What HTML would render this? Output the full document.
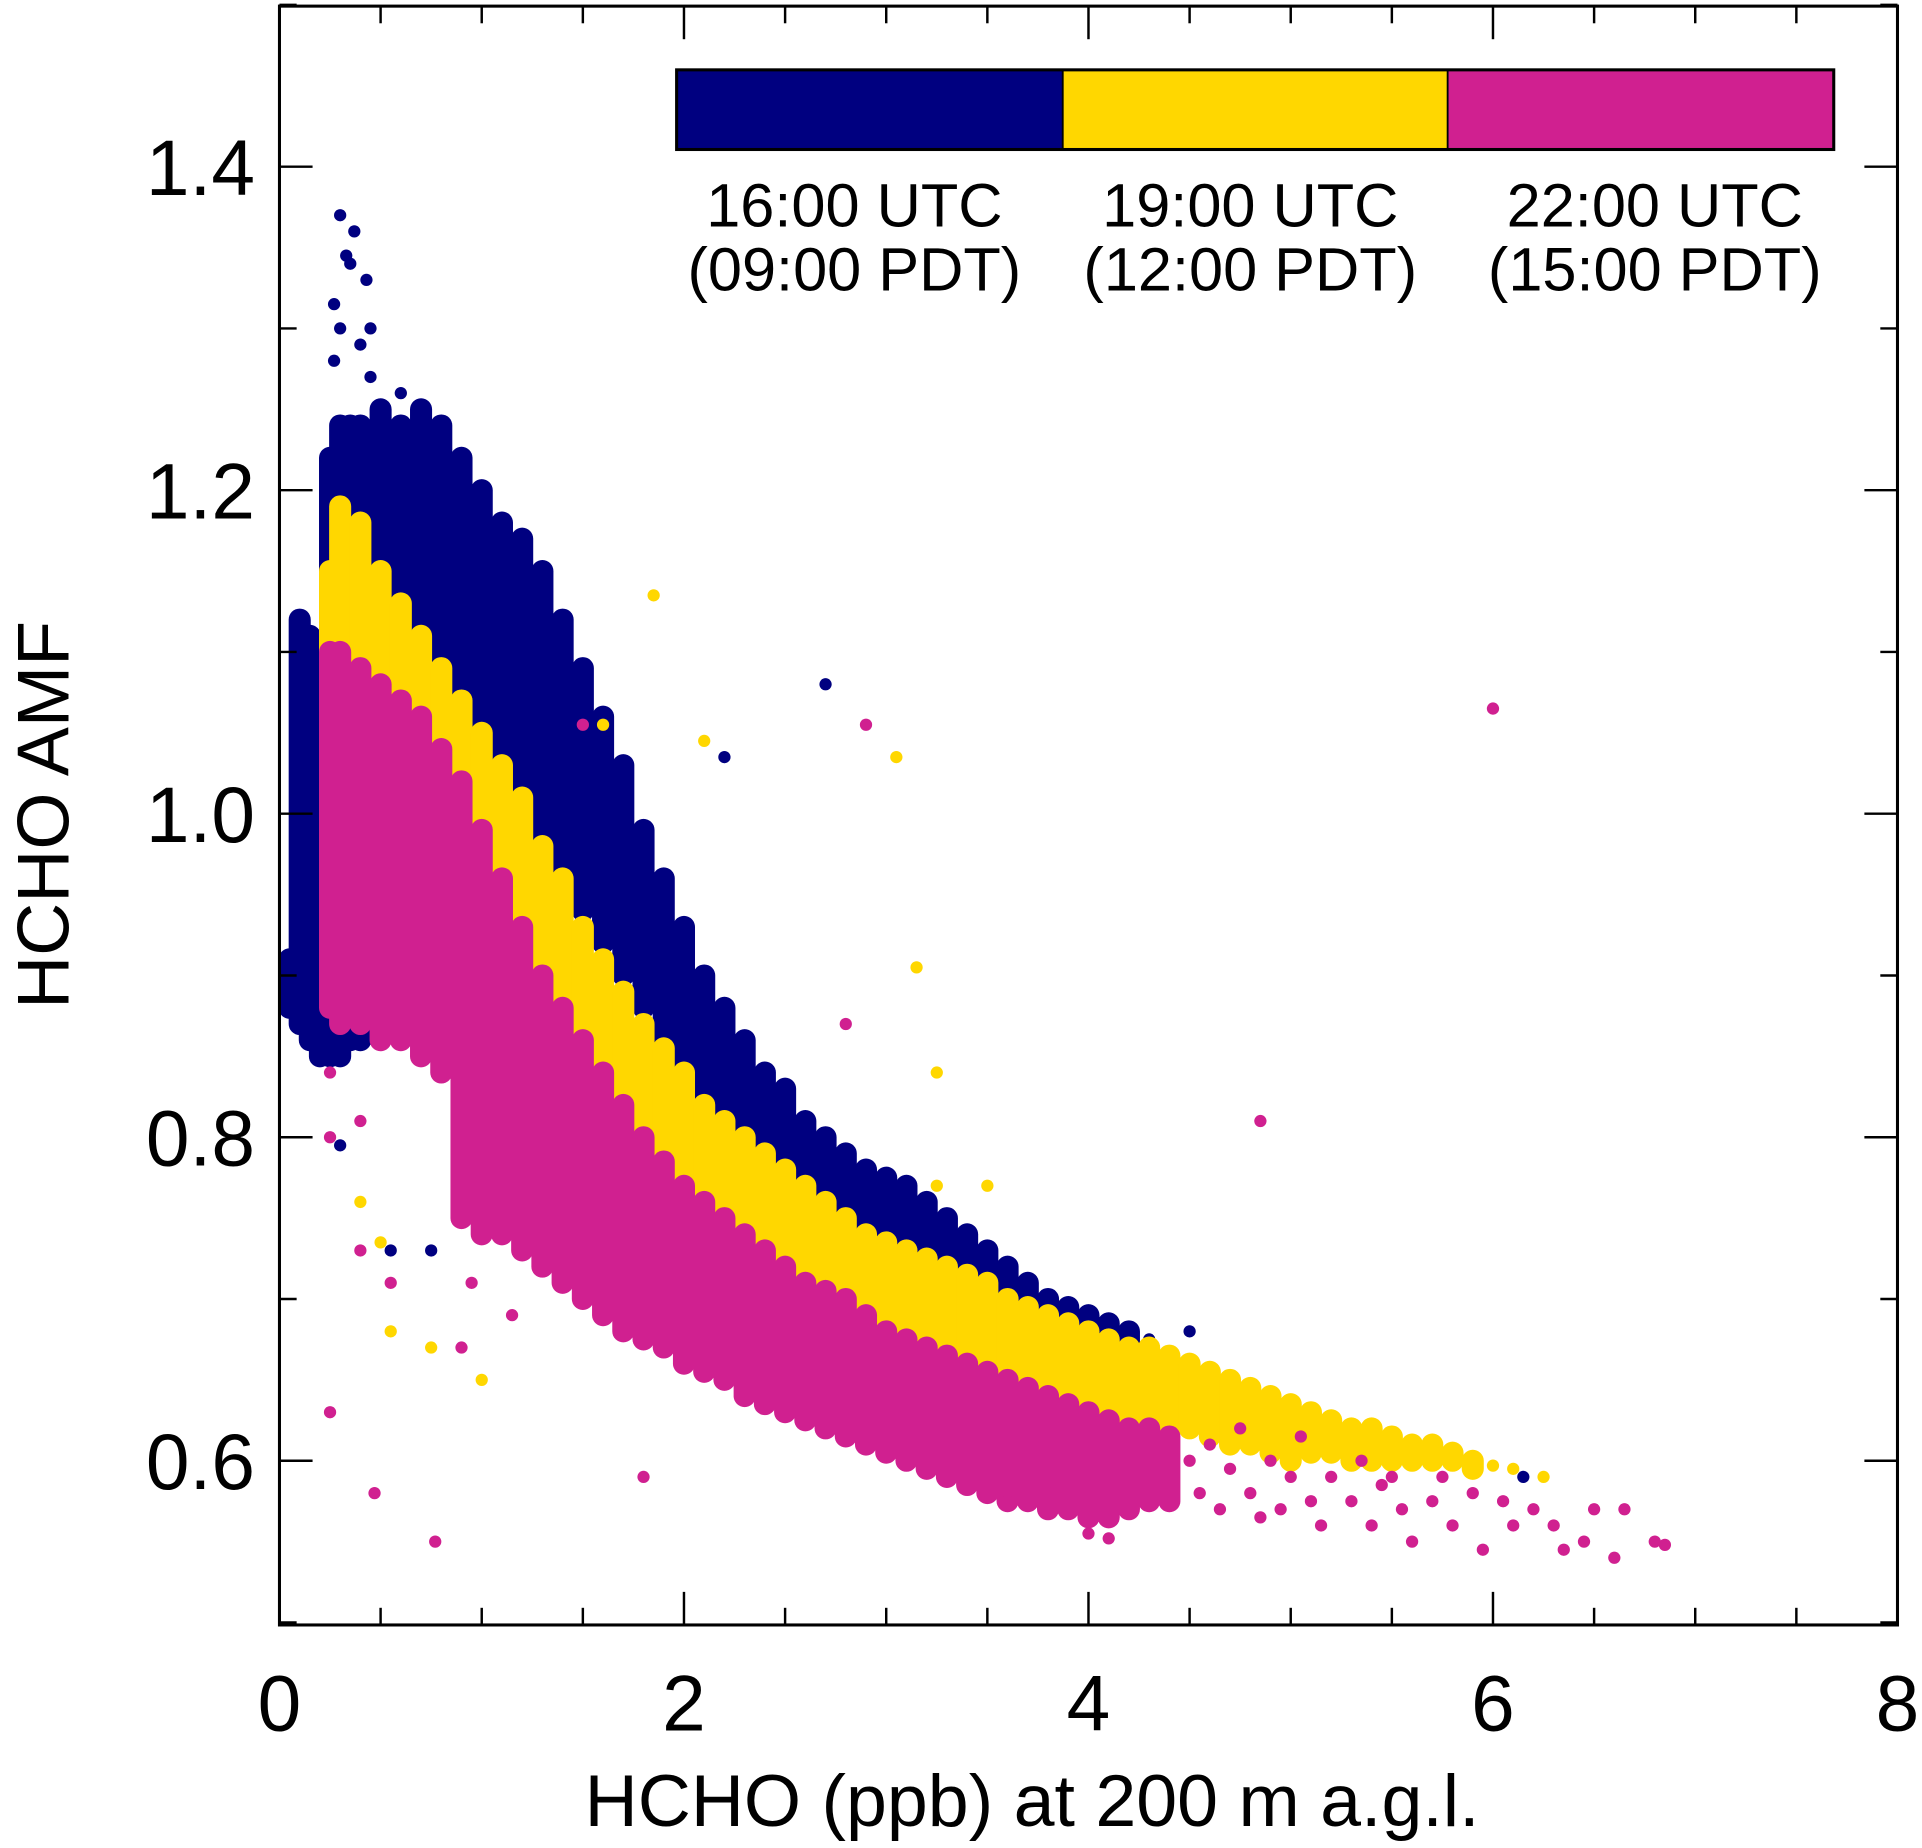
<!DOCTYPE html>
<html><head><meta charset="utf-8"><style>
html,body{margin:0;padding:0;background:#fff}
svg{display:block}
text{font-family:"Liberation Sans",Arial,sans-serif;fill:#000}
</style></head><body>
<svg id="chart" width="1922" height="1848" viewBox="0 0 1568 1508" preserveAspectRatio="none" xmlns="http://www.w3.org/2000/svg">
<g id="navy-layer"></g>
<g id="gold-layer"></g>
<g id="mag-layer"></g>
<g id="axes"></g>
<g>
<rect x="552" y="57" width="315" height="65" fill="#000080"/>
<rect x="867" y="57" width="314" height="65" fill="#FFD700"/>
<rect x="1181" y="57" width="315" height="65" fill="#D02090"/>
<rect x="552" y="57" width="944" height="65" fill="none" stroke="#000" stroke-width="2.5"/>
<line x1="867" y1="57" x2="867" y2="122" stroke="#000" stroke-width="1.5"/>
<line x1="1181" y1="57" x2="1181" y2="122" stroke="#000" stroke-width="1.5"/>
<text x="697" y="185" font-size="50" text-anchor="middle">16:00 UTC</text>
<text x="697" y="237" font-size="50" text-anchor="middle">(09:00 PDT)</text>
<text x="1020" y="185" font-size="50" text-anchor="middle">19:00 UTC</text>
<text x="1020" y="237" font-size="50" text-anchor="middle">(12:00 PDT)</text>
<text x="1350" y="185" font-size="50" text-anchor="middle">22:00 UTC</text>
<text x="1350" y="237" font-size="50" text-anchor="middle">(15:00 PDT)</text>
</g>
<text x="842" y="1490" font-size="60" text-anchor="middle">HCHO (ppb) at 200 m a.g.l.</text>
<text transform="translate(56,665) rotate(-90)" font-size="60" text-anchor="middle">HCHO AMF</text>
</svg>
<script>
const xTicks=[0,2,4,6,8];
const xTickLabels=["0","2","4","6","8"];
const yTicks=[0.6,0.8,1.0,1.2,1.4];
const yTickLabels=["0.6","0.8","1.0","1.2","1.4"];
// dense point clouds: [x, lowest AMF, highest AMF] per column
const navyBands=[[0.05,0.88,0.91],[0.1,0.87,1.12],[0.15,0.86,1.11],[0.2,0.85,1.10],[0.25,0.85,1.22],[0.3,0.85,1.24],[0.35,0.86,1.24],[0.4,0.86,1.24],[0.5,0.87,1.25],[0.6,0.88,1.24],[0.7,1.0,1.25],[0.8,1.0,1.24],[0.9,1.0,1.22],[1.0,1.0,1.2],[1.1,1.0,1.18],[1.2,1.0,1.17],[1.3,0.98,1.15],[1.4,0.96,1.12],[1.5,0.94,1.09],[1.6,0.92,1.06],[1.7,0.90,1.03],[1.8,0.88,0.99],[1.9,0.86,0.96],[2.0,0.84,0.93],[2.1,0.82,0.90],[2.2,0.80,0.88],[2.3,0.79,0.86],[2.4,0.78,0.84],[2.5,0.77,0.83],[2.6,0.76,0.81],[2.7,0.75,0.80],[2.8,0.745,0.79],[2.9,0.74,0.78],[3.0,0.735,0.775],[3.1,0.73,0.77],[3.2,0.72,0.76],[3.3,0.715,0.75],[3.4,0.71,0.74],[3.5,0.70,0.73],[3.6,0.70,0.72],[3.7,0.69,0.71],[3.8,0.685,0.70],[3.9,0.68,0.695],[4.0,0.675,0.69],[4.1,0.675,0.685],[4.2,0.67,0.68]];
const navyDots=[[0.3,1.37],[0.37,1.36],[0.33,1.345],[0.35,1.34],[0.43,1.33],[0.27,1.315],[0.3,1.3],[0.45,1.3],[0.4,1.29],[0.27,1.28],[0.45,1.27],[0.6,1.26],[0.3,0.795],[0.55,0.73],[0.75,0.73],[2.7,1.08],[2.2,1.035],[6.15,0.59],[4.5,0.68],[4.3,0.675]];
const goldBands=[[0.25,0.90,1.15],[0.3,0.88,1.19],[0.4,0.88,1.18],[0.5,0.88,1.15],[0.6,0.88,1.13],[0.7,0.88,1.11],[0.8,0.87,1.09],[0.9,0.86,1.07],[1.0,0.85,1.05],[1.1,0.84,1.03],[1.2,0.83,1.01],[1.3,0.82,0.98],[1.4,0.81,0.96],[1.5,0.80,0.93],[1.6,0.79,0.91],[1.7,0.78,0.89],[1.8,0.77,0.87],[1.9,0.76,0.855],[2.0,0.75,0.84],[2.1,0.74,0.82],[2.2,0.73,0.81],[2.3,0.72,0.80],[2.4,0.71,0.79],[2.5,0.705,0.78],[2.6,0.70,0.77],[2.7,0.69,0.76],[2.8,0.685,0.75],[2.9,0.68,0.74],[3.0,0.675,0.735],[3.1,0.67,0.73],[3.2,0.665,0.725],[3.3,0.66,0.72],[3.4,0.655,0.715],[3.5,0.65,0.71],[3.6,0.645,0.70],[3.7,0.64,0.695],[3.8,0.635,0.69],[3.9,0.63,0.685],[4.0,0.625,0.68],[4.1,0.62,0.675],[4.2,0.62,0.67],[4.3,0.62,0.67],[4.4,0.62,0.665],[4.5,0.62,0.66],[4.6,0.615,0.655],[4.7,0.61,0.65],[4.8,0.61,0.645],[4.9,0.605,0.64],[5.0,0.60,0.635],[5.1,0.605,0.63],[5.2,0.605,0.625],[5.3,0.60,0.62],[5.4,0.60,0.62],[5.5,0.60,0.615],[5.6,0.60,0.61],[5.7,0.60,0.61],[5.8,0.60,0.605],[5.9,0.595,0.60]];
const goldDots=[[6.0,0.597],[6.1,0.595],[6.25,0.59],[1.85,1.135],[2.1,1.045],[3.05,1.035],[1.6,1.055],[3.15,0.905],[3.25,0.84],[0.4,0.76],[0.55,0.68],[0.75,0.67],[1.0,0.65],[3.25,0.77],[3.5,0.77],[0.5,0.735]];
const magBands=[[0.25,0.88,1.10],[0.3,0.87,1.10],[0.4,0.87,1.09],[0.5,0.86,1.08],[0.6,0.86,1.07],[0.7,0.85,1.06],[0.8,0.84,1.04],[0.9,0.75,1.02],[1.0,0.74,0.99],[1.1,0.74,0.96],[1.2,0.73,0.93],[1.3,0.72,0.90],[1.4,0.71,0.88],[1.5,0.70,0.86],[1.6,0.69,0.84],[1.7,0.68,0.82],[1.8,0.675,0.80],[1.9,0.67,0.785],[2.0,0.66,0.77],[2.1,0.655,0.76],[2.2,0.65,0.75],[2.3,0.64,0.74],[2.4,0.635,0.73],[2.5,0.63,0.72],[2.6,0.625,0.71],[2.7,0.62,0.705],[2.8,0.615,0.70],[2.9,0.61,0.69],[3.0,0.605,0.68],[3.1,0.60,0.675],[3.2,0.595,0.67],[3.3,0.59,0.665],[3.4,0.585,0.66],[3.5,0.58,0.655],[3.6,0.575,0.65],[3.7,0.575,0.645],[3.8,0.57,0.64],[3.9,0.57,0.635],[4.0,0.565,0.63],[4.1,0.565,0.625],[4.2,0.57,0.62],[4.3,0.575,0.62],[4.4,0.575,0.615]];
const magDots=[[4.5,0.60],[4.55,0.58],[4.6,0.61],[4.65,0.57],[4.7,0.595],[4.75,0.62],[4.8,0.58],[4.85,0.565],[4.9,0.60],[4.95,0.57],[5.0,0.59],[5.05,0.615],[5.1,0.575],[5.15,0.56],[5.2,0.59],[5.3,0.575],[5.35,0.60],[5.4,0.56],[5.45,0.585],[5.5,0.59],[5.55,0.57],[5.6,0.55],[5.7,0.575],[5.75,0.59],[5.8,0.56],[5.9,0.58],[5.95,0.545],[6.05,0.575],[6.1,0.56],[6.2,0.57],[6.3,0.56],[6.35,0.545],[6.45,0.55],[6.5,0.57],[6.6,0.54],[6.65,0.57],[6.8,0.55],[6.85,0.548],[4.0,0.555],[4.1,0.552],[3.6,0.575],[3.8,0.58],[0.25,0.84],[0.25,0.8],[0.4,0.81],[0.4,0.73],[0.55,0.71],[0.9,0.67],[0.95,0.71],[1.15,0.69],[0.25,0.63],[0.47,0.58],[0.77,0.55],[1.8,0.59],[2.9,1.055],[2.8,0.87],[4.85,0.81],[6.0,1.065],[1.5,1.055]];

const NS='http://www.w3.org/2000/svg';
function xS(v){return 228+v*165;}
function yS(v){return 136+(1.4-v)*1320;}
function mk(tag,attrs,parent){const e=document.createElementNS(NS,tag);for(const k in attrs)e.setAttribute(k,attrs[k]);parent.appendChild(e);return e;}
function drawSeries(layerId,bands,dots,color,name){
  const g=document.getElementById(layerId);
  bands.forEach(b=>{
    const l=mk('line',{x1:xS(b[0]),x2:xS(b[0]),y1:yS(b[2]),y2:yS(b[1]),stroke:color,'stroke-width':18,'stroke-linecap':'round'},g);
    
    
  });
  dots.forEach(p=>{
    const d=mk('circle',{cx:xS(p[0]),cy:yS(p[1]),r:5,fill:color},g);
    
    
  });
}
drawSeries('navy-layer',navyBands,navyDots,'#000080','16utc');
drawSeries('gold-layer',goldBands,goldDots,'#FFD700','19utc');
drawSeries('mag-layer',magBands,magDots,'#D02090','22utc');

const ax=document.getElementById('axes');
const L=228,R=1548,T=5,B=1326;
const fr=mk('rect',{x:L,y:T,width:R-L,height:B-T,fill:'none',stroke:'#000','stroke-width':2.5},ax);


for(let i=0;i<=16;i++){
  const v=i*0.5,x=xS(v),len=(i%4===0)?27:14;
  mk('line',{x1:x,y1:B,x2:x,y2:B-len,stroke:'#000','stroke-width':2},ax);
  mk('line',{x1:x,y1:T,x2:x,y2:T+len,stroke:'#000','stroke-width':2},ax);
}
for(let i=5;i<=15;i++){
  const v=i/10,y=yS(v),len=(i%2===0)?27:14;
  mk('line',{x1:L,y1:y,x2:L+len,y2:y,stroke:'#000','stroke-width':2},ax);
  mk('line',{x1:R,y1:y,x2:R-len,y2:y,stroke:'#000','stroke-width':2},ax);
}
xTicks.forEach((v,i)=>{
  const t=mk('text',{x:xS(v),y:1412,'font-size':64,'text-anchor':'middle'},ax);
  t.textContent=xTickLabels[i];
  
  
});
yTicks.forEach((v,i)=>{
  const t=mk('text',{x:208,y:yS(v)+23,'font-size':64,'text-anchor':'end'},ax);
  t.textContent=yTickLabels[i];
  
  
});
</script>
</body></html>
